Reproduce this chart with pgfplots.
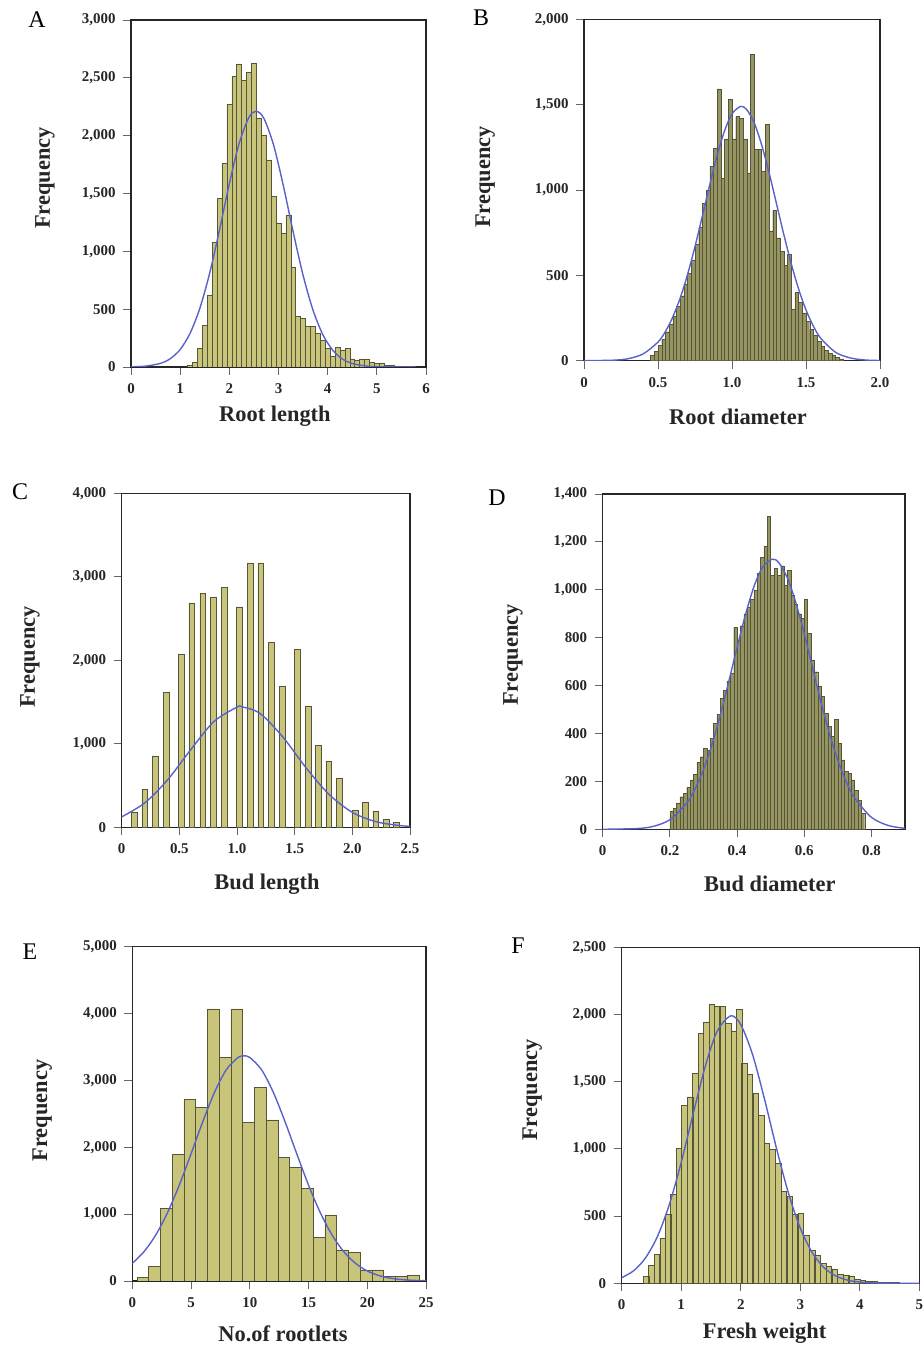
\documentclass[border=0pt]{standalone}
\usepackage{fontspec}
\setmainfont{Liberation Serif}
\usepackage{pgfplots}
\pgfplotsset{compat=1.18}
\definecolor{barfill}{RGB}{200,196,122}
\definecolor{baredge}{RGB}{85,85,55}
\definecolor{darkfill}{RGB}{150,148,96}
\definecolor{curve}{RGB}{88,98,200}
\pgfplotsset{
  panel/.style={
    scale only axis,
    axis line style={black!85, line width=1.1bp},
    tick style={black!60, line width=0.9bp},
    major tick length=8bp,
    tick align=outside,
    xtick pos=left, ytick pos=left,
    ymin=0,
    enlargelimits=false,
    tick label style={font=\fontsize{15}{15}\selectfont\bfseries, text=black!85},
    xticklabel style={yshift=-5bp},
    yticklabel style={xshift=-4bp},
    label style={font=\fontsize{22.5}{22.5}\selectfont\bfseries, text=black!85},
    clip=true,
  },
  bars/.style={ybar, fill=barfill, draw=baredge, line width=0.5bp},
  dbars/.style={ybar, fill=darkfill, draw=baredge, line width=0.3bp},
  fit/.style={smooth, no markers, color=curve, line width=1.4bp},
}
\begin{document}
\begin{tikzpicture}
\useasboundingbox (0,0) rectangle (924bp,1349bp);
\clip (0,0) rectangle (924bp,1349bp);

% ---------------- A ----------------
\begin{axis}[panel, at={(131bp,982bp)}, anchor=south west, width=295bp, height=347bp,
  xmin=0, xmax=6, ymax=3000, xtick={0,1,2,3,4,5,6}, xticklabels={0,1,2,3,4,5,6},
  ytick={0,500,1000,1500,2000,2500,3000}, yticklabels={0,500,{1,000},{1,500},{2,000},{2,500},{3,000}},
  xlabel={Root length}, ylabel={Frequency},
  xlabel style={at={(axis description cs:0.488,0)}, anchor=center, yshift=-49bp},
  ylabel style={at={(axis description cs:-0.292,0.545)}, anchor=center}]
\addplot[bars, bar width=0.1] coordinates {
(1.2,15) (1.3,40) (1.4,160) (1.5,360) (1.6,620) (1.7,1075) (1.8,1460) (1.9,1760)
(2.0,2270) (2.1,2510) (2.2,2620) (2.3,2480) (2.4,2550) (2.5,2630) (2.6,2150) (2.7,2000)
(2.8,1790) (2.9,1475) (3.0,1245) (3.1,1160) (3.2,1315) (3.3,865) (3.4,435) (3.5,420)
(3.6,350) (3.7,350) (3.8,290) (3.9,230) (4.0,160) (4.1,90) (4.2,170) (4.3,145)
(4.4,160) (4.5,70) (4.6,60) (4.7,70) (4.8,70) (4.9,45) (5.0,30) (5.1,35)
(5.2,15) (5.3,12) (5.4,10) (5.5,8) (5.6,6) (5.7,5)};
\addplot[fit] coordinates {
(0,1.5) (0.3,7.7) (0.6,31.5) (0.8,72) (1.0,151) (1.2,290) (1.4,507) (1.6,811) (1.8,1185)
(2.0,1584) (2.2,1934) (2.4,2159) (2.545,2211) (2.7,2152) (2.9,1919) (3.1,1564) (3.3,1165)
(3.5,793) (3.7,494) (3.9,281) (4.1,146) (4.3,69) (4.5,30) (4.8,7.3) (5.2,0.8) (5.8,0)};
\end{axis}

% ---------------- B ----------------
\begin{axis}[panel, at={(584bp,988.3bp)}, anchor=south west, width=296bp, height=341.4bp,
  xmin=0, xmax=2, ymax=2000, xtick={0,0.5,1,1.5,2}, xticklabels={0,0.5,1.0,1.5,2.0},
  ytick={0,500,1000,1500,2000}, yticklabels={0,500,{1,000},{1,500},{2,000}},
  xlabel={Root diameter}, ylabel={Frequency},
  xlabel style={at={(axis description cs:0.52,0)}, anchor=center, yshift=-56bp},
  ylabel style={at={(axis description cs:-0.334,0.538)}, anchor=center}]
\addplot[dbars, bar width=0.025] coordinates {
(0.4625,30) (0.4875,55) (0.5125,90) (0.5375,125) (0.5625,170) (0.5875,215) (0.6125,260) (0.6375,320)
(0.6625,380) (0.6875,450) (0.7125,510) (0.7375,590) (0.7625,680) (0.7875,780) (0.8125,920) (0.8375,1000)
(0.8625,1140) (0.8875,1245) (0.9125,1593) (0.9375,1070) (0.9625,1300) (0.9875,1530) (1.0125,1300) (1.0375,1430)
(1.0625,1420) (1.0875,1300) (1.1125,1100) (1.1375,1793) (1.1625,1240) (1.1875,1240) (1.2125,1110) (1.2375,1384)
(1.2625,760) (1.2875,880) (1.3125,720) (1.3375,640) (1.3625,560) (1.3875,624) (1.4125,300) (1.4375,400)
(1.4625,340) (1.4875,280) (1.5125,230) (1.5375,185) (1.5625,150) (1.5875,115) (1.6125,85) (1.6375,60)
(1.6625,42) (1.6875,30) (1.7125,18) (1.7375,10)};
\addplot[fit] coordinates {
(0,0) (0.2,3) (0.3,12) (0.4,40) (0.5,109) (0.55,171) (0.6,256) (0.65,367) (0.7,506) (0.75,669)
(0.8,848) (0.85,1032) (0.9,1204) (0.95,1347) (1.0,1446) (1.06,1490) (1.1,1470) (1.15,1393)
(1.2,1265) (1.25,1103) (1.3,922) (1.35,739) (1.4,569) (1.45,420) (1.5,297) (1.55,202) (1.6,131)
(1.7,49) (1.8,16) (1.9,4) (2.0,1)};
\end{axis}

% ---------------- C ----------------
\begin{axis}[panel, at={(121.7bp,521.7bp)}, anchor=south west, width=288.3bp, height=334bp,
  xmin=0, xmax=2.5, ymax=4000, xtick={0,0.5,1,1.5,2,2.5}, xticklabels={0,0.5,1.0,1.5,2.0,2.5},
  ytick={0,1000,2000,3000,4000}, yticklabels={0,{1,000},{2,000},{3,000},{4,000}},
  xlabel={Bud length}, ylabel={Frequency},
  xlabel style={at={(axis description cs:0.504,0)}, anchor=center, yshift=-57bp},
  ylabel style={at={(axis description cs:-0.318,0.51)}, anchor=center}]
\addplot[bars, bar width=0.05] coordinates {
(0.107,180) (0.2,455) (0.289,854) (0.384,1616) (0.514,2071) (0.607,2689) (0.702,2801) (0.792,2761)
(0.887,2873) (1.02,2641) (1.113,3168) (1.205,3168) (1.298,2214) (1.39,1692) (1.523,2131) (1.616,1452)
(1.705,978) (1.795,794) (1.887,587) (2.023,200) (2.113,295) (2.202,196) (2.295,92) (2.384,56)};
\addplot[fit] coordinates {
(0,125) (0.2,292) (0.4,571) (0.6,932) (0.8,1267) (1.0,1439) (1.04,1444) (1.2,1363) (1.4,1077)
(1.6,710) (1.8,391) (2.0,179) (2.2,69) (2.4,22) (2.5,12)};
\end{axis}

% ---------------- D ----------------
\begin{axis}[panel, at={(602.7bp,519.7bp)}, anchor=south west, width=302.3bp, height=335.3bp,
  xmin=0, xmax=0.9, ymax=1400, xtick={0,0.2,0.4,0.6,0.8}, xticklabels={0,0.2,0.4,0.6,0.8},
  ytick={0,200,400,600,800,1000,1200,1400}, yticklabels={0,200,400,600,800,{1,000},{1,200},{1,400}},
  xlabel={Bud diameter}, ylabel={Frequency},
  xlabel style={at={(axis description cs:0.553,0)}, anchor=center, yshift=-55bp},
  ylabel style={at={(axis description cs:-0.297,0.52)}, anchor=center}]
\addplot[dbars, bar width=0.01] coordinates {
(0.205,74) (0.215,88) (0.225,110) (0.235,136) (0.245,150) (0.255,175) (0.265,206) (0.275,230)
(0.285,280) (0.295,303) (0.305,338) (0.315,330) (0.325,380) (0.335,443) (0.345,480) (0.355,547)
(0.365,580) (0.375,620) (0.385,651) (0.395,842) (0.405,790) (0.415,850) (0.425,900) (0.435,929)
(0.445,960) (0.455,1000) (0.465,1070) (0.475,1135) (0.485,1183) (0.495,1308) (0.505,1060) (0.515,1089)
(0.525,1060) (0.535,1100) (0.545,1020) (0.555,1080) (0.565,978) (0.575,940) (0.585,900) (0.595,880)
(0.605,960) (0.615,818) (0.625,707) (0.635,658) (0.645,596) (0.655,554) (0.665,484) (0.675,429)
(0.685,387) (0.695,459) (0.705,359) (0.715,290) (0.725,241) (0.735,234) (0.745,206) (0.755,164)
(0.765,122) (0.775,67)};
\addplot[fit] coordinates {
(0,0.1) (0.1,3) (0.15,12) (0.2,40) (0.25,109) (0.275,169) (0.3,249) (0.325,352) (0.35,476) (0.375,615)
(0.4,759) (0.425,896) (0.45,1012) (0.475,1092) (0.505,1128) (0.525,1112) (0.55,1049) (0.575,946)
(0.6,816) (0.625,673) (0.65,530) (0.675,400) (0.7,288) (0.725,198) (0.75,131) (0.8,50) (0.85,16) (0.9,4)};
\end{axis}

% ---------------- E ----------------
\begin{axis}[panel, at={(132.3bp,68bp)}, anchor=south west, width=293.7bp, height=334.3bp,
  xmin=0, xmax=25, ymax=5000, xtick={0,5,10,15,20,25}, xticklabels={0,5,10,15,20,25},
  ytick={0,1000,2000,3000,4000,5000}, yticklabels={0,{1,000},{2,000},{3,000},{4,000},{5,000}},
  xlabel={No.of rootlets}, ylabel={Frequency},
  xlabel style={at={(axis description cs:0.513,0)}, anchor=center, yshift=-53bp},
  ylabel style={at={(axis description cs:-0.307,0.51)}, anchor=center}]
\addplot[bars, bar width=1] coordinates {
(0.9,55) (1.9,224) (2.9,1087) (3.9,1895) (4.9,2718) (5.9,2594) (6.9,4070) (7.9,3347)
(8.9,4070) (9.9,2369) (10.9,2893) (11.9,2409) (12.9,1850) (13.9,1701) (14.9,1387) (15.9,653)
(16.9,988) (17.9,464) (18.9,429) (19.9,165) (20.9,165) (21.9,65) (22.9,65) (23.9,80)};
\addplot[fit] coordinates {
(0,264) (1,439) (2,689) (3,1023) (4,1434) (5,1902) (6,2383) (7,2823) (8,3160) (9,3343) (9.5,3367)
(10,3343) (11,3160) (12,2823) (13,2383) (14,1902) (15,1434) (16,1023) (17,689) (18,439) (19,264)
(20,150) (21,81) (22,41) (23,20) (24,9) (25,4)};
\end{axis}

% ---------------- F ----------------
\begin{axis}[panel, at={(621.7bp,65.7bp)}, anchor=south west, width=297.6bp, height=336bp,
  xmin=0, xmax=5, ymax=2500, xtick={0,1,2,3,4,5}, xticklabels={0,1,2,3,4,5},
  ytick={0,500,1000,1500,2000,2500}, yticklabels={0,500,{1,000},{1,500},{2,000},{2,500}},
  xlabel={Fresh weight}, ylabel={Frequency},
  xlabel style={at={(axis description cs:0.48,0)}, anchor=center, yshift=-50bp},
  ylabel style={at={(axis description cs:-0.301,0.575)}, anchor=center}]
\addplot[bars, bar width=0.094] coordinates {
(0.41,50) (0.50,131) (0.59,216) (0.69,335) (0.78,513) (0.87,660) (0.96,1004) (1.05,1326)
(1.15,1388) (1.24,1562) (1.33,1859) (1.42,1946) (1.51,2075) (1.60,2058) (1.70,2063) (1.79,1934)
(1.88,1878) (1.97,2037) (2.06,1636) (2.15,1555) (2.25,1413) (2.34,1252) (2.44,1041) (2.53,999)
(2.63,892) (2.72,682) (2.82,645) (2.91,513) (3.01,520) (3.10,355) (3.20,243) (3.29,211)
(3.39,149) (3.48,124) (3.58,107) (3.67,67) (3.77,62) (3.86,55) (3.96,32) (4.05,22)
(4.15,16) (4.24,12) (4.34,10) (4.43,8) (4.53,6) (4.62,5) (4.72,4) (4.81,3)};
\addplot[fit] coordinates {
(0,42) (0.2,93) (0.4,189) (0.6,348) (0.8,586) (1.0,900) (1.2,1260) (1.4,1608) (1.6,1872)
(1.83,1990) (2.0,1925) (2.2,1700) (2.4,1369) (2.6,1005) (2.8,673) (3.0,411) (3.2,229) (3.4,116)
(3.6,54) (3.8,23) (4.0,9) (4.3,2) (4.6,0.3) (5.0,0)};
\end{axis}

\node[font=\fontsize{24}{24}\selectfont] at (37bp,1329bp) {A};
\node[font=\fontsize{24}{24}\selectfont] at (481bp,1331bp) {B};
\node[font=\fontsize{24}{24}\selectfont] at (20bp,857bp) {C};
\node[font=\fontsize{24}{24}\selectfont] at (497bp,851bp) {D};
\node[font=\fontsize{24}{24}\selectfont] at (30bp,397bp) {E};
\node[font=\fontsize{24}{24}\selectfont] at (518bp,403bp) {F};
\end{tikzpicture}
\end{document}
